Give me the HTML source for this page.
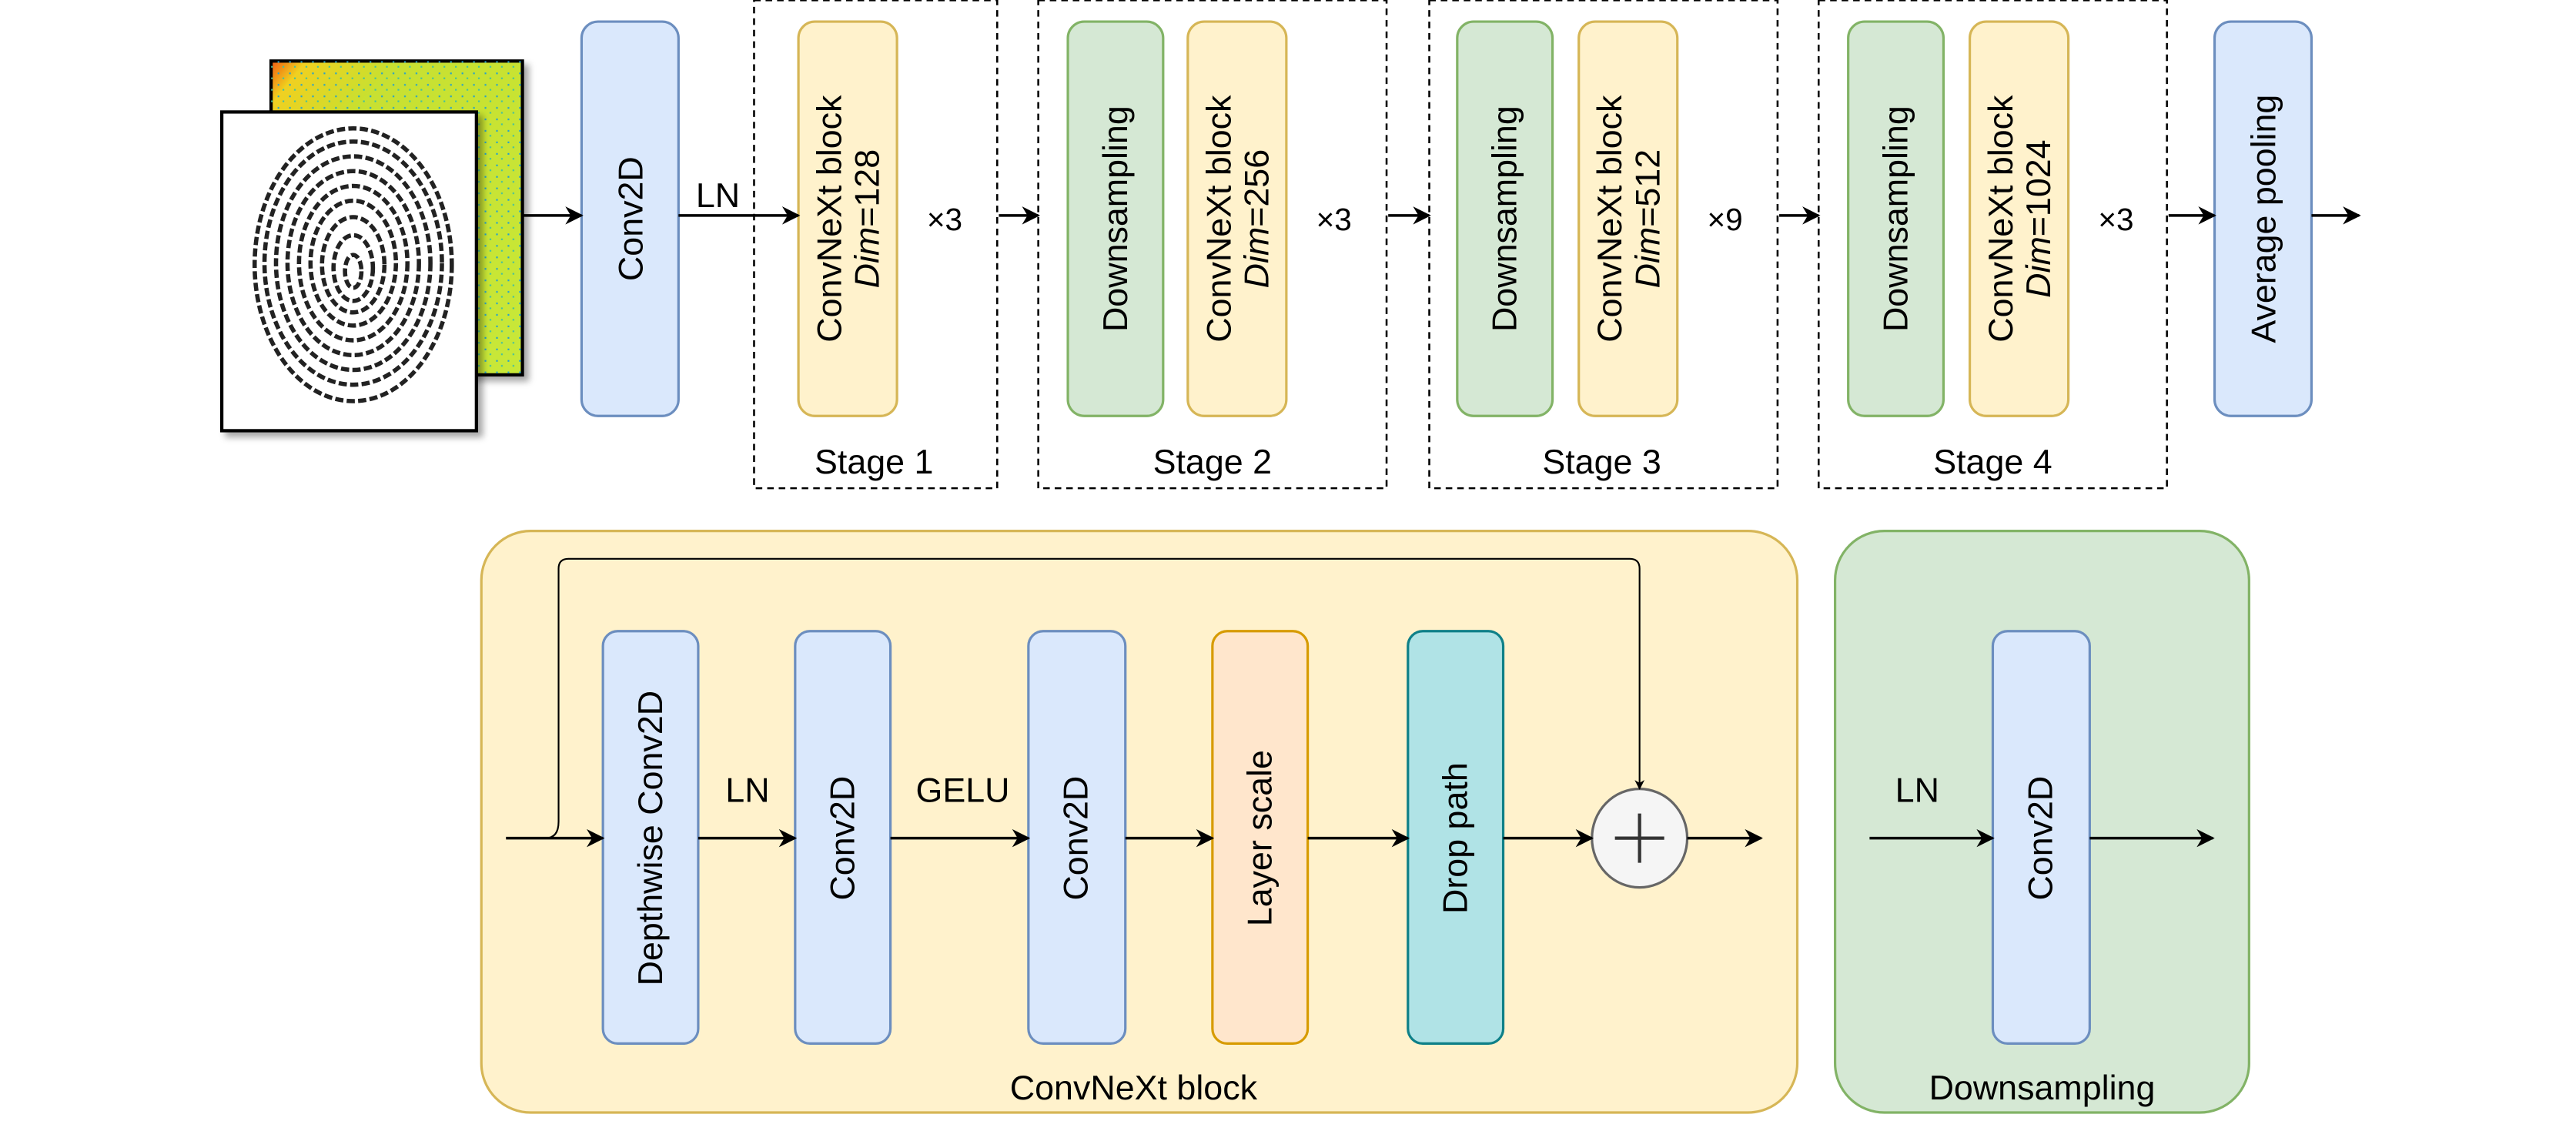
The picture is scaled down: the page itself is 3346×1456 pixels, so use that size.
<!DOCTYPE html>
<html><head><meta charset="utf-8"><style>html,body{margin:0;padding:0;background:#fff}svg{display:block}text{font-family:"Liberation Sans",sans-serif;fill:#000}</style></head>
<body>
<svg width="3346" height="1456" viewBox="0 0 1568 682" xmlns="http://www.w3.org/2000/svg">
<defs>
<marker id="a" viewBox="0 0 10 10" refX="9" refY="5" markerWidth="6" markerHeight="6" orient="auto" markerUnits="userSpaceOnUse"><path d="M0,0 L10,5 L0,10 L3,5 z" fill="#000"/></marker>
<marker id="b" viewBox="0 0 10 10" refX="9" refY="5" markerWidth="11" markerHeight="11" orient="auto" markerUnits="userSpaceOnUse"><path d="M0,0 L10,5 L0,10 L3,5 z" fill="#000"/></marker>
<linearGradient id="heat" x1="0" y1="0" x2="1" y2="1"><stop offset="0" stop-color="#f05a10"/><stop offset="0.07" stop-color="#f0d020"/><stop offset="0.25" stop-color="#c8e030"/><stop offset="1" stop-color="#c8e838"/></linearGradient>
<pattern id="dots" width="7" height="7" patternUnits="userSpaceOnUse"><rect x="1" y="2" width="1" height="1" fill="#20a0d0"/><rect x="4" y="5" width="1" height="1" fill="#40c0a0"/></pattern>
<filter id="sh"><feDropShadow dx="3" dy="3" stdDeviation="2" flood-opacity="0.35"/></filter>
</defs>
<g stroke-width="1.5">
<rect x="165" y="37" width="153" height="191" fill="url(#heat)" stroke="#000" stroke-width="2" filter="url(#sh)"/>
<rect x="165" y="37" width="153" height="191" fill="url(#dots)"/>
<rect x="135" y="68" width="155" height="194" fill="#fff" stroke="#000" stroke-width="2" filter="url(#sh)"/>
<g fill="none" stroke="#222" stroke-width="2.6" stroke-dasharray="5 2">
<ellipse cx="215" cy="165" rx="5" ry="10"/><ellipse cx="215" cy="163" rx="12" ry="20"/><ellipse cx="215" cy="161" rx="19" ry="29"/><ellipse cx="215" cy="160" rx="26" ry="38"/><ellipse cx="215" cy="160" rx="33" ry="47"/><ellipse cx="215" cy="160" rx="40" ry="56"/><ellipse cx="215" cy="160" rx="47" ry="65"/><ellipse cx="215" cy="160" rx="54" ry="74"/><ellipse cx="215" cy="161" rx="60" ry="83"/>
</g>
<g stroke-dasharray="4 3" fill="none" stroke="#000" stroke-width="1.2">
<rect x="459" y="0" width="148" height="297"/><rect x="632" y="0" width="212" height="297"/><rect x="870" y="0" width="212" height="297"/><rect x="1107" y="0" width="212" height="297"/>
</g>
<rect x="354" y="13" width="59" height="240" rx="10" fill="#dae8fc" stroke="#6c8ebf"/>
<rect x="486" y="13" width="60" height="240" rx="10" fill="#fff2cc" stroke="#d6b656"/>
<rect x="650" y="13" width="58" height="240" rx="10" fill="#d5e8d4" stroke="#82b366"/>
<rect x="723" y="13" width="60" height="240" rx="10" fill="#fff2cc" stroke="#d6b656"/>
<rect x="887" y="13" width="58" height="240" rx="10" fill="#d5e8d4" stroke="#82b366"/>
<rect x="961" y="13" width="60" height="240" rx="10" fill="#fff2cc" stroke="#d6b656"/>
<rect x="1125" y="13" width="58" height="240" rx="10" fill="#d5e8d4" stroke="#82b366"/>
<rect x="1199" y="13" width="60" height="240" rx="10" fill="#fff2cc" stroke="#d6b656"/>
<rect x="1348" y="13" width="59" height="240" rx="10" fill="#dae8fc" stroke="#6c8ebf"/>
<g stroke="#000" stroke-width="1.6" marker-end="url(#b)">
<line x1="318" y1="131" x2="354" y2="131"/><line x1="413" y1="131" x2="486" y2="131"/><line x1="608" y1="131" x2="632" y2="131"/><line x1="845" y1="131" x2="870" y2="131"/><line x1="1083" y1="131" x2="1107" y2="131"/><line x1="1320" y1="131" x2="1348" y2="131"/><line x1="1407" y1="131" x2="1436" y2="131"/>
</g>
</g>
<g font-size="21">
<text x="437" y="126" text-anchor="middle">LN</text>
<text transform="translate(384,133) rotate(-90)" text-anchor="middle" dominant-baseline="central">Conv2D</text>
<text transform="translate(1378,133) rotate(-90)" text-anchor="middle" dominant-baseline="central">Average pooling</text>
<text transform="translate(679,133) rotate(-90)" text-anchor="middle" dominant-baseline="central">Downsampling</text>
<text transform="translate(916,133) rotate(-90)" text-anchor="middle" dominant-baseline="central">Downsampling</text>
<text transform="translate(1154,133) rotate(-90)" text-anchor="middle" dominant-baseline="central">Downsampling</text>
<g text-anchor="middle">
<text transform="translate(516,133) rotate(-90)"><tspan x="0" dy="-4">ConvNeXt block</tspan><tspan x="0" dy="23" font-style="italic">Dim</tspan><tspan>=128</tspan></text>
<text transform="translate(753,133) rotate(-90)"><tspan x="0" dy="-4">ConvNeXt block</tspan><tspan x="0" dy="23" font-style="italic">Dim</tspan><tspan>=256</tspan></text>
<text transform="translate(991,133) rotate(-90)"><tspan x="0" dy="-4">ConvNeXt block</tspan><tspan x="0" dy="23" font-style="italic">Dim</tspan><tspan>=512</tspan></text>
<text transform="translate(1229,133) rotate(-90)"><tspan x="0" dy="-4">ConvNeXt block</tspan><tspan x="0" dy="23" font-style="italic">Dim</tspan><tspan>=1024</tspan></text>
<text x="575" y="140" font-size="19">×3</text><text x="812" y="140" font-size="19">×3</text><text x="1050" y="140" font-size="19">×9</text><text x="1288" y="140" font-size="19">×3</text>
<text x="532" y="288">Stage 1</text><text x="738" y="288">Stage 2</text><text x="975" y="288">Stage 3</text><text x="1213" y="288">Stage 4</text>
</g>
</g>
<g stroke-width="1.5">
<rect x="293" y="323" width="801" height="354" rx="30" fill="#fff2cc" stroke="#d6b656"/>
<rect x="1117" y="323" width="252" height="354" rx="30" fill="#d5e8d4" stroke="#82b366"/>
<rect x="367" y="384" width="58" height="251" rx="9" fill="#dae8fc" stroke="#6c8ebf"/>
<rect x="484" y="384" width="58" height="251" rx="9" fill="#dae8fc" stroke="#6c8ebf"/>
<rect x="626" y="384" width="59" height="251" rx="9" fill="#dae8fc" stroke="#6c8ebf"/>
<rect x="738" y="384" width="58" height="251" rx="9" fill="#ffe6cc" stroke="#d79b00"/>
<rect x="857" y="384" width="58" height="251" rx="9" fill="#b0e3e6" stroke="#0e8088"/>
<rect x="1213" y="384" width="59" height="251" rx="9" fill="#dae8fc" stroke="#6c8ebf"/>
<ellipse cx="998" cy="510" rx="29" ry="30" fill="#f5f5f5" stroke="#666"/>
<line x1="983" y1="510" x2="1013" y2="510" stroke="#333" stroke-width="2"/><line x1="998" y1="495" x2="998" y2="525" stroke="#333" stroke-width="2"/>
<path d="M332,510 Q340,510 340,500 L340,346 Q340,340 346,340 L992,340 Q998,340 998,346 L998,480" fill="none" stroke="#000" stroke-width="1" marker-end="url(#a)"/>
<g stroke="#000" stroke-width="1.6" marker-end="url(#b)">
<line x1="308" y1="510" x2="367" y2="510"/><line x1="425" y1="510" x2="484" y2="510"/><line x1="542" y1="510" x2="626" y2="510"/><line x1="685" y1="510" x2="738" y2="510"/><line x1="796" y1="510" x2="857" y2="510"/><line x1="915" y1="510" x2="969" y2="510"/><line x1="1027" y1="510" x2="1072" y2="510"/>
<line x1="1138" y1="510" x2="1213" y2="510"/><line x1="1272" y1="510" x2="1347" y2="510"/>
</g>
</g>
<g font-size="21" text-anchor="middle">
<text transform="translate(396,510) rotate(-90)" dominant-baseline="central">Depthwise Conv2D</text>
<text transform="translate(513,510) rotate(-90)" dominant-baseline="central">Conv2D</text>
<text transform="translate(655,510) rotate(-90)" dominant-baseline="central">Conv2D</text>
<text transform="translate(767,510) rotate(-90)" dominant-baseline="central">Layer scale</text>
<text transform="translate(886,510) rotate(-90)" dominant-baseline="central">Drop path</text>
<text transform="translate(1242,510) rotate(-90)" dominant-baseline="central">Conv2D</text>
<text x="455" y="488">LN</text><text x="586" y="488">GELU</text><text x="1167" y="488">LN</text>
<text x="690" y="669">ConvNeXt block</text><text x="1243" y="669">Downsampling</text>
</g>
</svg>
</body></html>
